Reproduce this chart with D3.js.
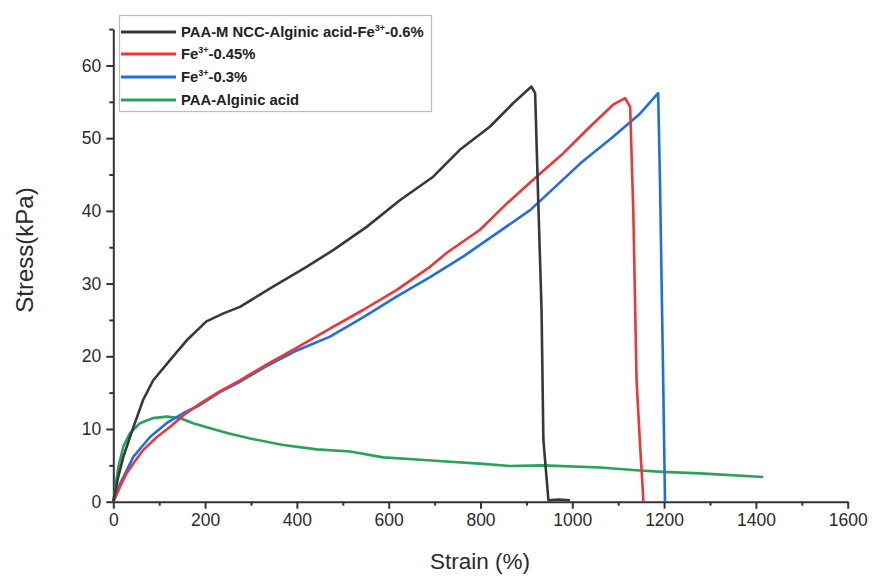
<!doctype html>
<html>
<head>
<meta charset="utf-8">
<style>
  body { margin: 0; background: #fff; }
  svg { font-family: "Liberation Sans", Arial, sans-serif; }
  .axis path, .axis line { stroke: #333; stroke-width: 2; fill: none; }
  .axis text { fill: #2b2b2b; font-size: 17.5px; }
  .curve { fill: none; stroke-width: 2.6; stroke-linejoin: round; }
  .legend text { font-size: 14.8px; font-weight: bold; fill: #222; }
</style>
<script src="https://d3js.org/d3.v7.min.js"></script>
</head>
<body>
<svg width="876" height="576"></svg>
<script>
// ---- data ----
var blackStrain = [0, 10, 22, 44, 65, 87, 124, 160, 203, 240, 276, 349, 421, 479, 552, 625, 697, 755, 821, 871, 911, 919, 926, 933, 937, 948, 970, 995];
var blackStress = [0, 3.2, 6.2, 10.3, 14, 16.7, 19.5, 22.2, 24.8, 25.9, 26.8, 29.6, 32.3, 34.6, 37.8, 41.5, 44.7, 48.4, 51.6, 54.8, 57.1, 56.2, 41, 26.4, 8.5, 0.2, 0.3, 0.2];

var redStrain = [0, 15, 29, 44, 65, 95, 124, 153, 189, 230, 276, 330, 400, 472, 545, 617, 690, 726, 799, 857, 922, 980, 1039, 1089, 1115, 1126, 1133, 1140, 1147, 1155];
var redStress = [0, 2.1, 3.9, 5.3, 7.1, 8.9, 10.3, 11.9, 13.5, 15.1, 16.7, 18.7, 21.2, 23.8, 26.4, 29.1, 32.3, 34.2, 37.4, 41, 44.7, 47.9, 51.6, 54.6, 55.5, 54.3, 39.7, 16.7, 8.5, 0];

var blueStrain = [0, 15, 44, 80, 116, 153, 189, 230, 276, 330, 400, 472, 545, 617, 690, 762, 835, 908, 944, 1017, 1089, 1148, 1187, 1191, 1198, 1202];
var blueStress = [0, 2.5, 6.2, 8.9, 10.8, 12.2, 13.3, 15, 16.5, 18.5, 20.8, 22.7, 25.4, 28.2, 30.9, 33.7, 36.9, 40.1, 42.2, 46.5, 50.2, 53.4, 56.2, 44.2, 16.7, 0];

var greenStrain = [0, 11, 22, 36, 58, 87, 116, 145, 174, 211, 250, 298, 370, 443, 516, 588, 661, 734, 806, 864, 937, 1060, 1147, 1198, 1278, 1416];
var greenStress = [0, 4.8, 7.6, 9.4, 10.8, 11.5, 11.7, 11.5, 10.8, 10.1, 9.4, 8.7, 7.8, 7.2, 6.9, 6.1, 5.8, 5.5, 5.2, 4.9, 5.0, 4.7, 4.3, 4.1, 3.9, 3.4];

var xTicks = [0, 200, 400, 600, 800, 1000, 1200, 1400, 1600];
var yTicks = [0, 10, 20, 30, 40, 50, 60];

var seriesNames = ["PAA-M NCC-Alginic acid-Fe", "Fe", "Fe", "PAA-Alginic acid"];

var svg = d3.select("svg");
var plotLeft = 113.3, plotRight = 847.7, plotTop = 29.1, plotBottom = 501.7;

var x = d3.scaleLinear().domain([0, 1600]).range([plotLeft, plotRight]);
var y = d3.scaleLinear().domain([0, 65]).range([plotBottom, plotTop]);

// minor ticks first, major over them
svg.append("g").attr("class", "axis")
   .attr("transform", "translate(0," + plotBottom + ")")
   .call(d3.axisBottom(x).tickValues(d3.range(100, 1600, 200)).tickSize(4).tickFormat(""))
   .select(".domain").remove();
svg.append("g").attr("class", "axis")
   .attr("transform", "translate(" + plotLeft + ",0)")
   .call(d3.axisLeft(y).tickValues(d3.range(5, 70, 10)).tickSize(4).tickFormat(""))
   .select(".domain").remove();

svg.append("g").attr("class", "axis")
   .attr("transform", "translate(0," + plotBottom + ")")
   .call(d3.axisBottom(x).tickValues(xTicks).tickSize(7).tickSizeOuter(0).tickPadding(5).tickFormat(d3.format("d")));
svg.append("g").attr("class", "axis")
   .attr("transform", "translate(" + plotLeft + ",0)")
   .call(d3.axisLeft(y).tickValues(yTicks).tickSize(7).tickSizeOuter(0).tickPadding(5).tickFormat(d3.format("d")));

// curves
var line = d3.line()
    .x(function(d) { return x(d[0]); })
    .y(function(d) { return y(d[1]); });

function pairs(a, b) { return a.map(function(v, i) { return [v, b[i]]; }); }

var curves = [
    { data: pairs(greenStrain, greenStress), color: "#27a35c" },
    { data: pairs(blueStrain, blueStress), color: "#1f6ee6" },
    { data: pairs(redStrain, redStress), color: "#ef3535" },
    { data: pairs(blackStrain, blackStress), color: "#383838" }
];

svg.selectAll(".curve")
   .data(curves)
   .enter().append("path")
   .attr("class", "curve")
   .attr("stroke", function(d) { return d.color; })
   .attr("d", function(d) { return line(d.data); });

// axis titles
svg.append("text")
   .attr("x", 480).attr("y", 569)
   .attr("text-anchor", "middle")
   .attr("font-size", "22.5px").attr("fill", "#2b2b2b")
   .text("Strain (%)");
svg.append("text")
   .attr("transform", "translate(33,250) rotate(-90)")
   .attr("text-anchor", "middle")
   .attr("font-size", "24px").attr("fill", "#2b2b2b")
   .text("Stress(kPa)");

// legend
var legend = svg.append("g").attr("class", "legend");
legend.append("rect")
   .attr("x", 119.5).attr("y", 15.5).attr("width", 312).attr("height", 96)
   .attr("fill", "#fff").attr("stroke", "#bdbdbd").attr("stroke-width", 1.2);

var legendItems = [
    { color: "#383838", pre: seriesNames[0], post: "-0.6%", sup: true },
    { color: "#ef3535", pre: seriesNames[1], post: "-0.45%", sup: true },
    { color: "#1f6ee6", pre: seriesNames[2], post: "-0.3%", sup: true },
    { color: "#27a35c", pre: seriesNames[3], post: "", sup: false }
];
var rowY = [32, 54, 77, 100];

legendItems.forEach(function(it, i) {
    legend.append("line")
       .attr("x1", 121).attr("x2", 176)
       .attr("y1", rowY[i]).attr("y2", rowY[i])
       .attr("stroke", it.color).attr("stroke-width", 3);
    var t = legend.append("text")
       .attr("x", 181).attr("y", rowY[i] + 5);
    t.append("tspan").text(it.pre);
    if (it.sup) {
        t.append("tspan").attr("font-size", "9px").attr("dy", -6).text("3+");
        t.append("tspan").attr("dy", 6).text(it.post);
    }
});
</script>
</body>
</html>
